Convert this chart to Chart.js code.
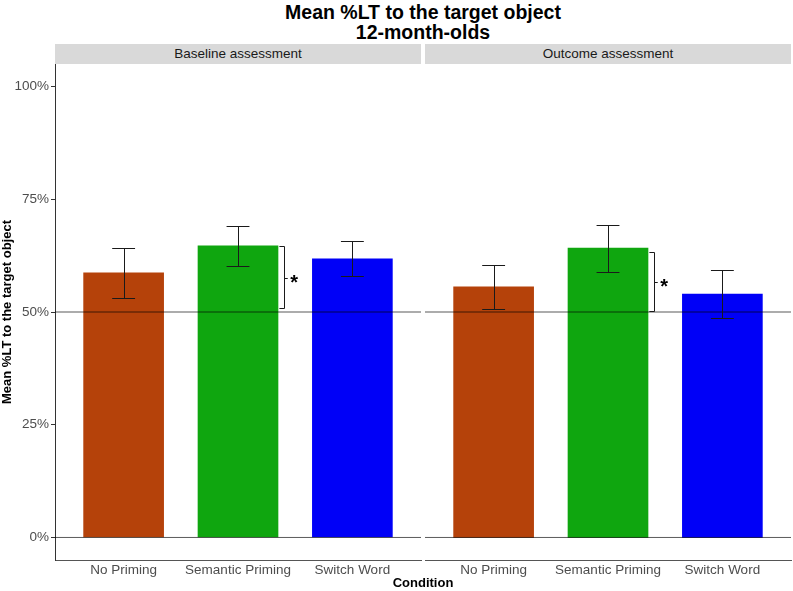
<!DOCTYPE html>
<html>
<head>
<meta charset="utf-8">
<script src="https://cdn.jsdelivr.net/npm/chart.js@4/dist/chart.umd.min.js"></script>
<style>
  body { margin: 0; width: 793px; height: 591px; background: #fff; position: relative; overflow: hidden;
         font-family: "Liberation Sans", Arial, sans-serif; }
  #title { position: absolute; left: 55px; width: 736px; top: 2px; text-align: center;
           font-weight: bold; font-size: 19.5px; line-height: 20px; color: #000; }
  .strip { position: absolute; top: 44px; height: 20px; background: #d9d9d9; text-align: center;
           font-size: 13.5px; line-height: 20px; color: #1a1a1a; }
  #xtitle { position: absolute; left: 55px; width: 736px; top: 575px; text-align: center;
            font-weight: bold; font-size: 13px; line-height: 15px; color: #000; }
  .box { position: absolute; top: 64px; height: 527px; }
</style>
</head>
<body>
<div id="title">Mean %LT to the target object<br>12-month-olds</div>
<div class="strip" id="strip0" style="left:55px;width:366px"></div>
<div class="strip" id="strip1" style="left:425px;width:366px"></div>
<div class="box" style="left:0;width:423px"><canvas id="left" width="423" height="527"></canvas></div>
<div class="box" style="left:423px;width:370px"><canvas id="right" width="370" height="527"></canvas></div>
<div id="xtitle">Condition</div>
<script>
const conditions = ['No Priming', 'Semantic Priming', 'Switch Word'];
const panels = ['Baseline assessment', 'Outcome assessment'];

const baselineMean = [58.7, 64.7, 61.8];
const baselineLow  = [53.1, 60.3, 57.9];
const baselineHigh = [64.1, 69.0, 65.7];

const outcomeMean = [55.6, 64.2, 54.0];
const outcomeLow  = [50.7, 58.9, 48.7];
const outcomeHigh = [60.5, 69.2, 59.3];

// significance bracket (top, bottom) next to Semantic Priming
const baselineSig = [64.6, 50.8];
const outcomeSig  = [63.2, 50.3];

const chance = 50;
const yTicks = [0, 25, 50, 75, 100];
const barColors = ['#b5420a', '#0fa60f', '#0000f7'];

document.getElementById('strip0').textContent = panels[0];
document.getElementById('strip1').textContent = panels[1];

const axisColor = '#333333';
const tickColor = '#4d4d4d';
const font = '"Liberation Sans", Arial, sans-serif';

// error bars + bracket with star, drawn through the chart's scales
const extras = {
  id: 'extras',
  afterDatasetsDraw(chart, args, opts) {
    const { ctx, scales: { x, y } } = chart;
    ctx.save();
    ctx.strokeStyle = '#1a1a1a';
    ctx.lineWidth = 1;
    opts.low.forEach((lo, i) => {
      const xc = Math.round(x.getPixelForValue(i + 1)) + 0.5;
      const x0 = x.getPixelForValue(i + 0.9);
      const x1 = x.getPixelForValue(i + 1.1);
      const yl = Math.round(y.getPixelForValue(lo)) + 0.5;
      const yh = Math.round(y.getPixelForValue(opts.high[i])) + 0.5;
      ctx.beginPath();
      ctx.moveTo(xc, yl); ctx.lineTo(xc, yh);
      ctx.moveTo(x0, yl); ctx.lineTo(x1, yl);
      ctx.moveTo(x0, yh); ctx.lineTo(x1, yh);
      ctx.stroke();
    });

    const [top, bot] = opts.sig;
    const bx = Math.round(x.getPixelForValue(2.4)) + 0.5;
    const bl = x.getPixelForValue(2.362);
    const br = x.getPixelForValue(2.435);
    const yt = Math.round(y.getPixelForValue(top)) + 0.5;
    const yb = Math.round(y.getPixelForValue(bot)) + 0.5;
    const ym = Math.round((yt + yb) / 2) + 0.5;
    ctx.beginPath();
    ctx.moveTo(bl, yt); ctx.lineTo(bx, yt); ctx.lineTo(bx, yb); ctx.lineTo(bl, yb);
    ctx.moveTo(bx, ym); ctx.lineTo(br, ym);
    ctx.stroke();
    ctx.fillStyle = '#000';
    ctx.font = 'bold 20px ' + font;
    ctx.textAlign = 'center';
    ctx.textBaseline = 'middle';
    ctx.fillText('*', x.getPixelForValue(2.49), ym + 5);
    ctx.restore();
  }
};

function noPad(s) {
  s.paddingTop = 0; s.paddingBottom = 0; s.paddingLeft = 0; s.paddingRight = 0;
}

function makeChart(id, mean, low, high, sig, showY) {
  const bars = mean.map((v, i) => ({ x: i + 1, y: v }));
  const hline = v => [{ x: 0.4, y: v }, { x: 3.6, y: v }];
  return new Chart(document.getElementById(id), {
    type: 'bar',
    data: {
      datasets: [
        { type: 'bar', data: bars, backgroundColor: barColors, barThickness: 80, order: 2 },
        { type: 'line', data: hline(0), borderColor: 'rgba(0,0,0,0.65)', borderWidth: 1, pointRadius: 0, order: 1 },
        { type: 'line', data: hline(chance), borderColor: 'rgba(0,0,0,0.65)', borderWidth: 1, pointRadius: 0, order: 1 }
      ]
    },
    options: {
      responsive: false,
      animation: false,
      layout: { padding: showY ? { right: 2 } : { left: 2, right: 2 } },
      plugins: {
        legend: { display: false },
        tooltip: { enabled: false },
        extras: { low, high, sig }
      },
      scales: {
        x: {
          type: 'linear', min: 0.4, max: 3.6, offset: false,
          afterBuildTicks: s => { s.ticks = conditions.map((c, i) => ({ value: i + 1 })); },
          ticks: {
            callback: v => conditions[Math.round(v) - 1],
            color: tickColor, font: { size: 13.5, family: font },
            padding: 2, maxRotation: 0, autoSkip: false
          },
          grid: { display: false, drawTicks: false, tickLength: 0, offset: false },
          border: { color: '#555555' },
          afterFit: s => { s.height = 31; noPad(s); }
        },
        y: {
          display: showY,
          min: -5, max: 105,
          afterBuildTicks: s => { s.ticks = yTicks.map(v => ({ value: v })); },
          ticks: {
            callback: v => v + '%',
            color: tickColor, font: { size: 13.5, family: font },
            padding: 2
          },
          grid: { display: true, drawOnChartArea: false, tickLength: 4, color: axisColor },
          border: { color: axisColor },
          title: {
            display: true, text: 'Mean %LT to the target object', color: '#000',
            font: { size: 13, weight: 'bold', family: font },
            padding: 0
          },
          afterFit: s => { s.width = showY ? 55 : 0; noPad(s); }
        }
      }
    },
    plugins: [extras]
  });
}

makeChart('left', baselineMean, baselineLow, baselineHigh, baselineSig, true);
makeChart('right', outcomeMean, outcomeLow, outcomeHigh, outcomeSig, false);
</script>
</body>
</html>
